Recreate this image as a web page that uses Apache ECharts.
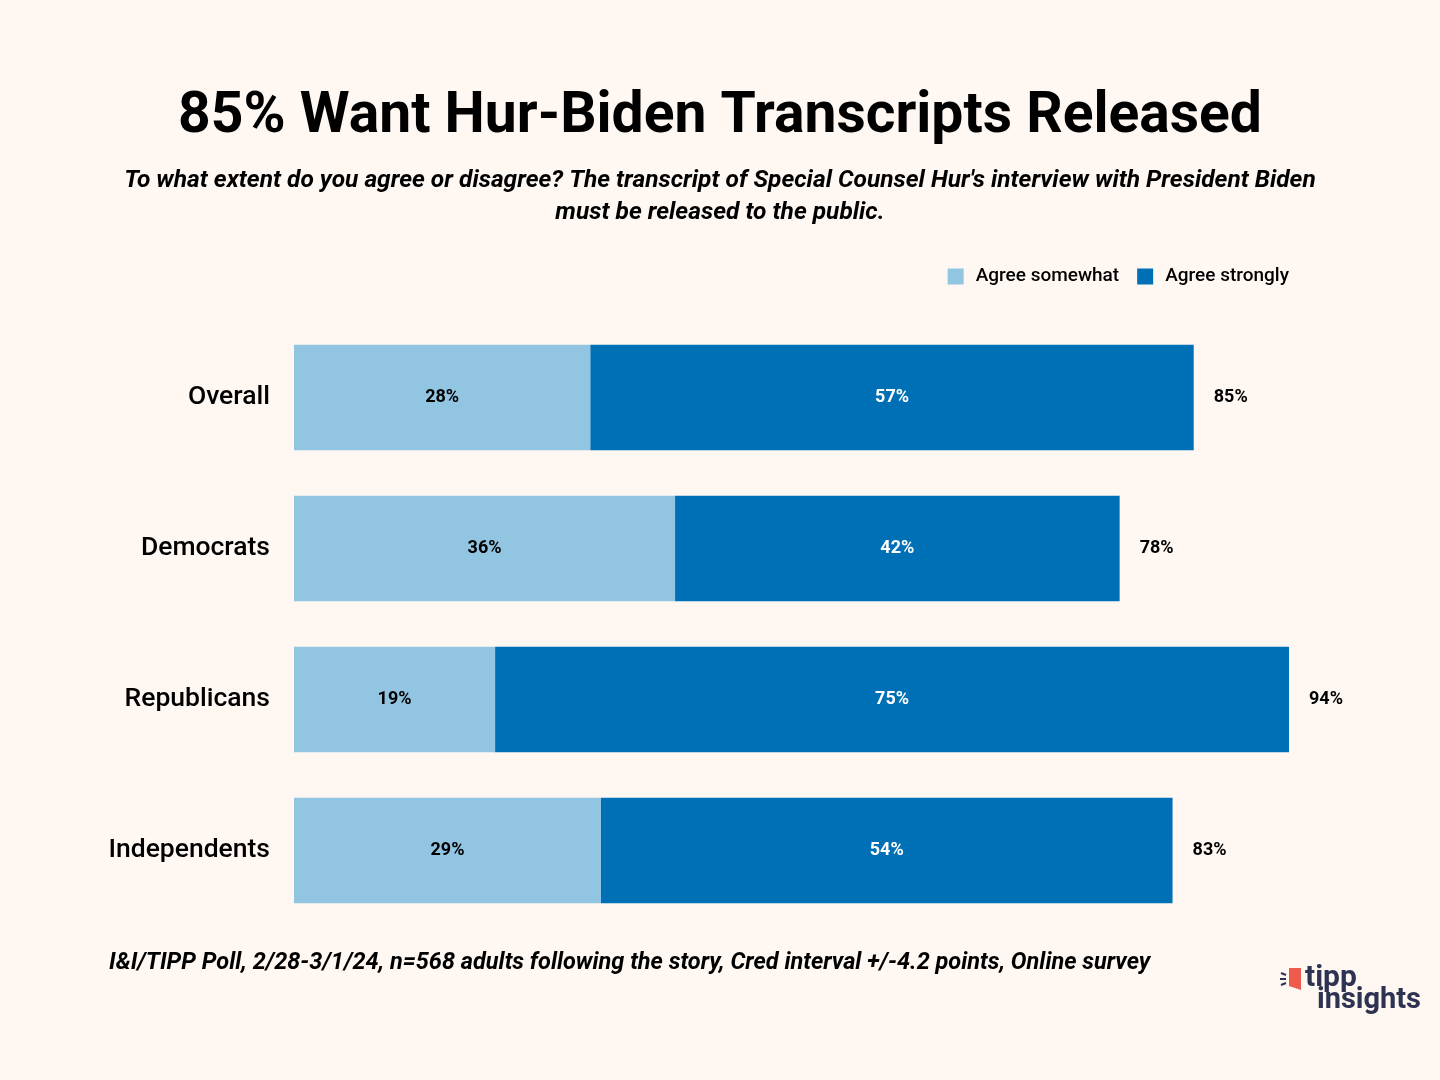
<!DOCTYPE html>
<html><head><meta charset="utf-8">
<script src="https://cdn.jsdelivr.net/npm/echarts@6/dist/echarts.min.js"></script>
<style>html,body{margin:0;padding:0;background:#fff7f2}#c{width:1440px;height:1080px}</style>
</head><body><div id="c"></div>
<script>
const categories = ['Overall', 'Democrats', 'Republicans', 'Independents'];
const agreeSomewhat = [28, 36, 19, 29];
const agreeStrongly = [57, 42, 75, 54];
const totals = [85, 78, 94, 83];

const chart = echarts.init(document.getElementById('c'));
const F = 'Roboto, "Liberation Sans", sans-serif';
chart.setOption({
  backgroundColor: '#fff7f2',
  animation: false,
  title: [{
    text: '85% Want Hur-Biden Transcripts Released',
    left: 'center', top: 84,
    textStyle: { fontFamily: F, fontSize: 57, fontWeight: 'bold', color: '#000' }
  }, {
    text: 'I&I/TIPP Poll, 2/28-3/1/24, n=568 adults following the story, Cred interval +/-4.2 points, Online survey',
    left: 104, top: 947,
    textStyle: { fontFamily: F, fontSize: 23.5, fontStyle: 'italic', fontWeight: 'bold', color: '#000' }
  }],
  legend: {
    right: 146, top: 262,
    itemWidth: 16, itemHeight: 16, itemGap: 18,
    icon: 'rect',
    textStyle: { fontFamily: F, fontSize: 19, fontWeight: 500, color: '#000', padding: [0, 0, 0, 7] },
    data: ['Agree somewhat', 'Agree strongly']
  },
  grid: { left: 294, top: 322, width: 1058.5, height: 604, containLabel: false },
  xAxis: { type: 'value', min: 0, max: 100, show: false },
  yAxis: {
    type: 'category', data: categories, inverse: true,
    axisLine: { show: false }, axisTick: { show: false },
    axisLabel: { fontFamily: F, fontSize: 26.5, fontWeight: 500, color: '#000', margin: 24, padding: [4, 0, 0, 0] }
  },
  series: [{
    name: 'Agree somewhat', type: 'bar', stack: 's', data: agreeSomewhat,
    barCategoryGap: '30%',
    itemStyle: { color: '#92c5e2' },
    label: { show: true, position: 'inside', formatter: '{c}%', fontFamily: F, fontSize: 18, fontWeight: 'bold', color: '#000', padding: [3, 0, 0, 0] }
  }, {
    name: 'Agree strongly', type: 'bar', stack: 's', data: agreeStrongly,
    itemStyle: { color: '#0070b6' },
    label: { show: true, position: 'inside', formatter: '{c}%', fontFamily: F, fontSize: 18, fontWeight: 'bold', color: '#fff', padding: [3, 0, 0, 0] }
  }, {
    name: 'Total', type: 'bar', stack: 's', data: totals.map(() => 0),
    itemStyle: { color: 'transparent' }, silent: true,
    label: { show: true, position: 'right', distance: 20, padding: [3, 0, 0, 0],
      formatter: p => totals[p.dataIndex] + '%',
      fontFamily: F, fontSize: 18, fontWeight: 'bold', color: '#000' }
  }],
  graphic: [{
    type: 'text', x: 720, y: 165,
    style: {
      text: "To what extent do you agree or disagree? The transcript of Special Counsel Hur's interview with President Biden\nmust be released to the public.",
      align: 'center', verticalAlign: 'top', lineHeight: 32,
      fontFamily: F, fontSize: 24.5, fontStyle: 'italic', fontWeight: 'bold', fill: '#000'
    }
  }, {
    type: 'polygon', shape: { points: [[1289,968],[1301,968],[1301,990],[1289,986]] },
    style: { fill: '#ee5a4b' }
  }, {
    type: 'group', children: [
      { type: 'line', shape: { x1: 1281, y1: 973, x2: 1286, y2: 975 }, style: { stroke: '#2d3350', lineWidth: 2 } },
      { type: 'line', shape: { x1: 1280, y1: 979, x2: 1286, y2: 979 }, style: { stroke: '#2d3350', lineWidth: 2 } },
      { type: 'line', shape: { x1: 1281, y1: 985, x2: 1286, y2: 983 }, style: { stroke: '#2d3350', lineWidth: 2 } }
    ]
  }, {
    type: 'text', left: 1305, top: 963,
    style: { text: 'tipp', fontFamily: F, fontSize: 30, fontWeight: 'bold', fill: '#2d3350' }
  }, {
    type: 'text', left: 1317, top: 986,
    style: { text: 'insights', fontFamily: F, fontSize: 29, fontWeight: 'bold', fill: '#2d3350' }
  }]
});
</script></body></html>
